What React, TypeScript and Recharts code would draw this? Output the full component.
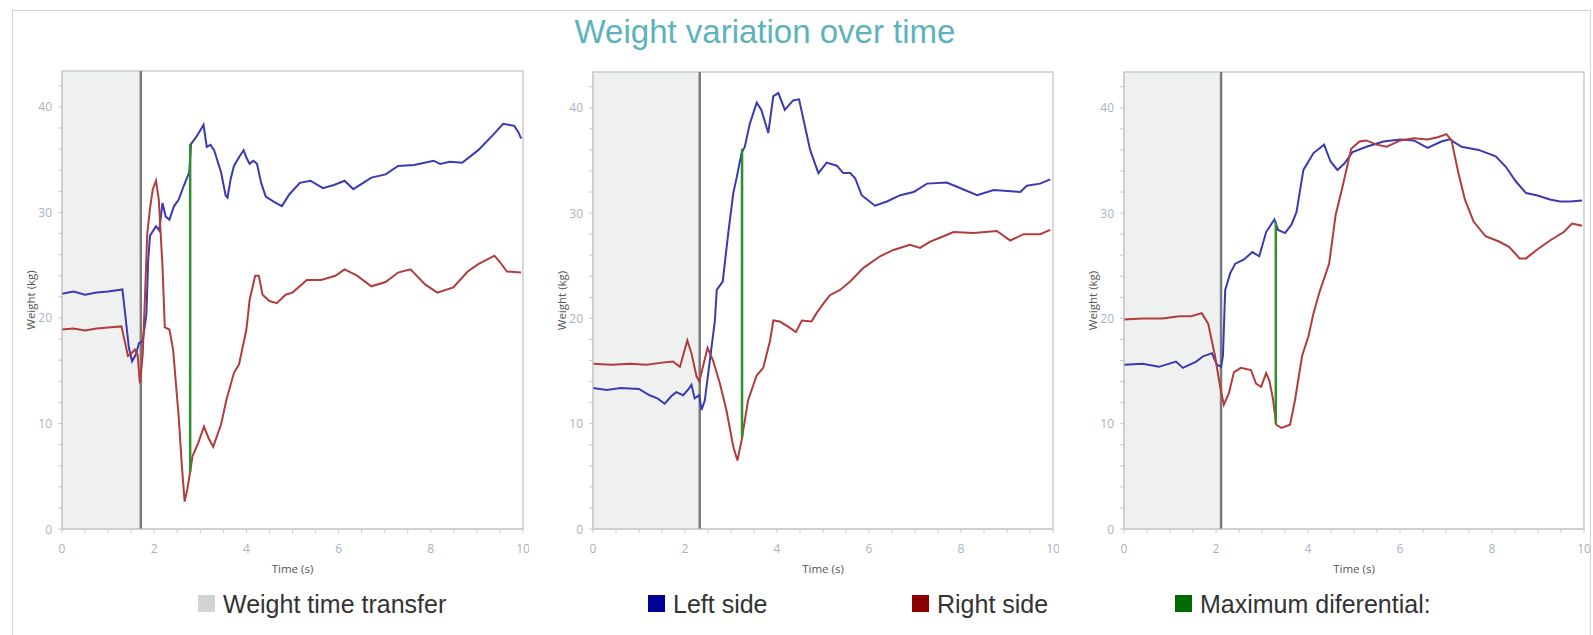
import React from 'react';
import { LineChart, Line, XAxis, YAxis, ReferenceArea, ReferenceLine } from 'recharts';

type Pt = [number, number];

// time (s) / weight (kg) readings per trial
const leftSide1: Pt[] = [
  [0, 22.3], [0.25, 22.5], [0.5, 22.2], [0.75, 22.4], [1.0, 22.5], [1.31, 22.7], [1.38, 20.0], [1.45, 17.2],
  [1.52, 15.9], [1.6, 16.5], [1.67, 17.6], [1.75, 17.8], [1.83, 20.3], [1.87, 25.5], [1.91, 27.8], [2.04, 28.7],
  [2.11, 28.3], [2.18, 30.9], [2.25, 29.6], [2.33, 29.3], [2.43, 30.6], [2.53, 31.2], [2.64, 32.5], [2.76, 33.8],
  [2.8, 36.5], [2.92, 37.2], [3.03, 38.0], [3.07, 38.3], [3.14, 36.2], [3.22, 36.4], [3.3, 35.9], [3.45, 33.8],
  [3.55, 31.6], [3.59, 31.4], [3.66, 33.2], [3.73, 34.4], [3.85, 35.3], [3.94, 35.9], [4.0, 35.2], [4.07, 34.6],
  [4.15, 34.9], [4.23, 34.6], [4.32, 32.8], [4.42, 31.5], [4.6, 31.0], [4.77, 30.6], [4.93, 31.7], [5.16, 32.8],
  [5.39, 33.0], [5.66, 32.3], [5.9, 32.6], [6.13, 33.0], [6.32, 32.2], [6.5, 32.7], [6.71, 33.3], [7.02, 33.6],
  [7.29, 34.4], [7.64, 34.5], [8.06, 34.9], [8.2, 34.6], [8.41, 34.8], [8.68, 34.7], [9.03, 35.9], [9.34, 37.3],
  [9.57, 38.4], [9.81, 38.2], [9.9, 37.6], [9.96, 37.0],
];
const rightSide1: Pt[] = [
  [0, 18.9], [0.25, 19.0], [0.5, 18.8], [0.75, 19.0], [1.0, 19.1], [1.29, 19.2], [1.36, 17.8], [1.43, 16.4],
  [1.52, 16.7], [1.58, 17.0], [1.64, 16.5], [1.69, 13.8], [1.75, 16.5], [1.8, 22.0], [1.85, 28.0], [1.91, 30.4],
  [1.97, 32.2], [2.04, 33.0], [2.1, 31.2], [2.14, 28.0], [2.18, 24.9], [2.23, 19.1], [2.33, 18.9], [2.41, 17.0],
  [2.53, 10.7], [2.6, 6.0], [2.66, 2.6], [2.72, 3.8], [2.78, 5.4], [2.83, 6.9], [2.95, 8.1], [3.08, 9.7],
  [3.18, 8.6], [3.28, 7.8], [3.45, 9.9], [3.57, 12.3], [3.73, 14.8], [3.84, 15.6], [4.0, 18.9], [4.07, 21.7],
  [4.19, 24.0], [4.27, 24.0], [4.35, 22.2], [4.5, 21.6], [4.66, 21.4], [4.85, 22.2], [5.0, 22.4], [5.31, 23.6],
  [5.62, 23.6], [5.93, 24.0], [6.13, 24.6], [6.4, 24.0], [6.71, 23.0], [7.02, 23.4], [7.29, 24.3], [7.56, 24.6],
  [7.87, 23.2], [8.14, 22.4], [8.49, 22.9], [8.8, 24.4], [9.03, 25.1], [9.38, 25.9], [9.5, 25.3], [9.65, 24.4],
  [9.96, 24.3],
];

const leftSide2: Pt[] = [
  [0, 13.4], [0.3, 13.2], [0.6, 13.4], [1.0, 13.3], [1.23, 12.7], [1.4, 12.4], [1.56, 11.9], [1.7, 12.6],
  [1.81, 13.0], [1.96, 12.7], [2.08, 13.3], [2.14, 13.7], [2.21, 12.4], [2.31, 12.7], [2.36, 11.3], [2.43, 12.2],
  [2.54, 16.0], [2.65, 19.8], [2.69, 22.7], [2.82, 23.5], [2.94, 28.1], [3.05, 31.9], [3.12, 33.3], [3.23, 35.7],
  [3.3, 36.3], [3.41, 38.5], [3.56, 40.5], [3.66, 39.8], [3.81, 37.6], [3.92, 41.1], [4.03, 41.4], [4.17, 39.8],
  [4.35, 40.7], [4.48, 40.8], [4.61, 38.2], [4.72, 36.0], [4.9, 33.8], [5.08, 34.8], [5.3, 34.5], [5.44, 33.8],
  [5.59, 33.8], [5.7, 33.3], [5.84, 31.7], [6.13, 30.7], [6.39, 31.1], [6.68, 31.7], [6.97, 32.0], [7.26, 32.8],
  [7.69, 32.9], [7.91, 32.5], [8.35, 31.7], [8.71, 32.2], [9.29, 32.0], [9.43, 32.6], [9.72, 32.8], [9.94, 33.2],
];
const rightSide2: Pt[] = [
  [0, 15.7], [0.4, 15.6], [0.8, 15.7], [1.16, 15.6], [1.5, 15.8], [1.74, 15.9], [1.89, 15.4], [2.05, 17.9],
  [2.14, 16.7], [2.25, 14.5], [2.31, 14.0], [2.39, 15.4], [2.49, 17.2], [2.61, 16.0], [2.76, 13.8], [2.9, 11.3],
  [3.05, 7.8], [3.14, 6.5], [3.23, 8.4], [3.37, 12.2], [3.56, 14.6], [3.7, 15.3], [3.85, 17.9], [3.92, 19.8],
  [4.06, 19.7], [4.25, 19.2], [4.41, 18.7], [4.54, 19.8], [4.75, 19.7], [4.86, 20.5], [5.04, 21.6], [5.15, 22.2],
  [5.37, 22.7], [5.59, 23.5], [5.88, 24.8], [6.24, 25.9], [6.53, 26.5], [6.89, 27.0], [7.11, 26.7], [7.33, 27.3],
  [7.62, 27.8], [7.84, 28.2], [8.27, 28.1], [8.78, 28.3], [9.07, 27.4], [9.36, 28.0], [9.72, 28.0], [9.94, 28.4],
];

const leftSide3: Pt[] = [
  [0, 15.6], [0.4, 15.7], [0.76, 15.4], [1.13, 15.9], [1.28, 15.3], [1.57, 15.9], [1.72, 16.4], [1.91, 16.7],
  [2.02, 15.6], [2.11, 15.4], [2.15, 16.4], [2.2, 22.7], [2.31, 24.3], [2.42, 25.2], [2.61, 25.6], [2.79, 26.3],
  [2.94, 25.9], [3.09, 28.2], [3.27, 29.4], [3.35, 28.4], [3.5, 28.1], [3.64, 28.9], [3.75, 30.1], [3.9, 34.1],
  [4.12, 35.7], [4.35, 36.5], [4.49, 34.9], [4.64, 34.1], [4.79, 34.7], [4.97, 35.8], [5.27, 36.3], [5.64, 36.8],
  [6.01, 37.0], [6.3, 36.9], [6.6, 36.2], [6.9, 36.8], [7.08, 37.0], [7.34, 36.3], [7.71, 36.0], [8.08, 35.4],
  [8.3, 34.4], [8.52, 33.0], [8.74, 31.9], [8.97, 31.7], [9.26, 31.3], [9.48, 31.1], [9.7, 31.1], [9.96, 31.2],
];
const rightSide3: Pt[] = [
  [0, 19.9], [0.4, 20.0], [0.84, 20.0], [1.2, 20.2], [1.46, 20.2], [1.69, 20.5], [1.83, 19.5], [1.98, 16.4],
  [2.09, 13.5], [2.17, 11.8], [2.28, 12.9], [2.39, 14.9], [2.54, 15.3], [2.76, 15.1], [2.87, 13.8], [2.98, 13.5],
  [3.09, 14.8], [3.16, 14.1], [3.24, 12.3], [3.31, 9.9], [3.42, 9.6], [3.61, 9.9], [3.72, 12.3], [3.87, 16.4],
  [4.01, 18.3], [4.12, 20.5], [4.25, 22.5], [4.46, 25.2], [4.6, 29.8], [4.75, 32.5], [4.94, 36.1], [5.12, 36.8],
  [5.27, 36.9], [5.49, 36.5], [5.71, 36.3], [6.01, 36.9], [6.3, 37.1], [6.6, 37.0], [6.82, 37.2], [7.01, 37.5],
  [7.12, 36.9], [7.27, 33.8], [7.41, 31.3], [7.6, 29.2], [7.86, 27.8], [8.15, 27.3], [8.37, 26.8], [8.6, 25.7],
  [8.74, 25.7], [8.97, 26.5], [9.26, 27.4], [9.56, 28.2], [9.74, 29.0], [9.96, 28.8],
];

const leftSeries = [leftSide1, leftSide2, leftSide3];
const rightSeries = [rightSide1, rightSide2, rightSide3];
const transferTimes = [1.71, 2.32, 2.11];
const diffTimes = [2.78, 3.24, 3.3];
const diffLow = [5.4, 8.7, 10.0];
const diffHigh = [36.5, 36.1, 29.2];

const xTicks = [0, 0.5, 1, 1.5, 2, 2.5, 3, 3.5, 4, 4.5, 5, 5.5, 6, 6.5, 7, 7.5, 8, 8.5, 9, 9.5, 10];
const xLabels = [0, 2, 4, 6, 8, 10];
const yTicks = [0, 2, 4, 6, 8, 10, 12, 14, 16, 18, 20, 22, 24, 26, 28, 30, 32, 34, 36, 38, 40, 42];
const yLabels = [0, 10, 20, 30, 40];
const yMax = 43.4;

const legendLabels = ['Weight time transfer', 'Left side', 'Right side', 'Maximum diferential:'];
const legendColors = ['#d3d3d3', '#000096', '#8b0000', '#006b00'];

// layout
const legendX = [198, 648, 912, 1175];
const plotLefts = [62, 593, 1124];
const plotWidths = [461, 460, 460];
const plotTops = [71, 72, 72];
const plotBottom = 529;
const Y_AXIS_W = 50;
const X_AXIS_H = 42;

const BLUE = '#3a3ab2';
const RED = '#b23c3c';
const GREEN = '#2f8f2f';
const TICK_FONT = '"Open Sans", "Noto Sans", sans-serif';

const toRows = (pts: Pt[]) => pts.map(([t, kg]) => ({ t, kg }));

const XTick = (props: any) => {
  const { x, y, payload } = props;
  if (!xLabels.includes(payload.value)) return <g />;
  return (
    <text x={x} y={y + 13} textAnchor="middle" dominantBaseline="central" fontSize={12} fill="#a9b3bd" fontFamily={TICK_FONT}>
      {payload.value}
    </text>
  );
};

const YTick = (props: any) => {
  const { x, y, payload } = props;
  if (!yLabels.includes(payload.value)) return <g />;
  return (
    <text x={x} y={y} textAnchor="end" dominantBaseline="central" fontSize={12} fill="#a9b3bd" fontFamily={TICK_FONT}>
      {payload.value}
    </text>
  );
};

const Panel = ({ i }: { i: number }) => {
  const plotH = plotBottom - plotTops[i];
  const width = Y_AXIS_W + plotWidths[i] + 6;
  const height = plotTops[i] + plotH + X_AXIS_H + 4;
  const diff = [
    { t: diffTimes[i], kg: diffLow[i] },
    { t: diffTimes[i], kg: diffHigh[i] },
  ];
  return (
    <div style={{ position: 'absolute', left: plotLefts[i] - Y_AXIS_W, top: 0 }}>
      <LineChart width={width} height={height} margin={{ top: plotTops[i], right: 6, bottom: 4, left: 0 }}>
        <ReferenceArea x1={0} x2={transferTimes[i]} y1={0} y2={yMax} fill="#eff1f1" fillOpacity={1} stroke="none" />
        <XAxis
          type="number"
          dataKey="t"
          domain={[0, 10]}
          ticks={xTicks}
          interval={0}
          height={X_AXIS_H}
          tickSize={4}
          tickMargin={2}
          tick={<XTick />}
          stroke="#c8c8c8"
          label={{
            content: (p: any) => {
              const vb = p.viewBox || {};
              return (
                <text x={vb.x + vb.width / 2} y={vb.y + 39} textAnchor="middle" dominantBaseline="central" fontSize={11.5} fill="#555" fontFamily={TICK_FONT}>
                  Time (s)
                </text>
              );
            },
          }}
        />
        <YAxis
          type="number"
          domain={[0, yMax]}
          ticks={yTicks}
          interval={0}
          width={Y_AXIS_W}
          tickSize={4}
          tickMargin={6}
          tick={<YTick />}
          stroke="#c8c8c8"
          label={{
            content: (p: any) => {
              const vb = p.viewBox || {};
              const cx = vb.x + 18;
              const cy = vb.y + vb.height / 2;
              return (
                <text x={cx} y={cy} transform={`rotate(-90 ${cx} ${cy})`} textAnchor="middle" dominantBaseline="central" fontSize={11.5} fill="#555" fontFamily={TICK_FONT}>
                  Weight (kg)
                </text>
              );
            },
          }}
        />
        <ReferenceLine x={transferTimes[i]} stroke="#7b7b7b" strokeWidth={2.5} />
        <Line data={toRows(leftSeries[i])} dataKey="kg" stroke={BLUE} strokeWidth={2} dot={false} isAnimationActive={false} />
        <Line data={toRows(rightSeries[i])} dataKey="kg" stroke={RED} strokeWidth={2} dot={false} isAnimationActive={false} />
        <Line data={diff} dataKey="kg" stroke={GREEN} strokeWidth={2.5} dot={false} isAnimationActive={false} />
        <ReferenceArea x1={0} x2={10} y1={0} y2={yMax} fill="none" stroke="#cccccc" strokeWidth={1.5} />
      </LineChart>
    </div>
  );
};

export default function App() {
  return (
    <div style={{ position: 'absolute', left: 0, top: 0, width: 1593, height: 635, background: '#fff', overflow: 'hidden' }}>
      <svg width={1593} height={635} style={{ position: 'absolute', left: 0, top: 0 }}>
        <rect x={12.5} y={10.5} width={1578} height={660} fill="none" stroke="#d4d4d4" />
        <text x={765} y={43} textAnchor="middle" fontSize={33} fill="#5db3bb" fontFamily='"Liberation Sans", Arial, sans-serif'>
          Weight variation over time
        </text>
        {legendLabels.map((label, k) => (
          <g key={label}>
            <rect x={legendX[k]} y={595} width={17} height={17} fill={legendColors[k]} />
            <text x={legendX[k] + 25} y={613} fontSize={25} fill="#333" fontFamily='"Liberation Sans", Arial, sans-serif'>
              {label}
            </text>
          </g>
        ))}
      </svg>
      {[0, 1, 2].map((i) => (
        <Panel key={i} i={i} />
      ))}
    </div>
  );
}
